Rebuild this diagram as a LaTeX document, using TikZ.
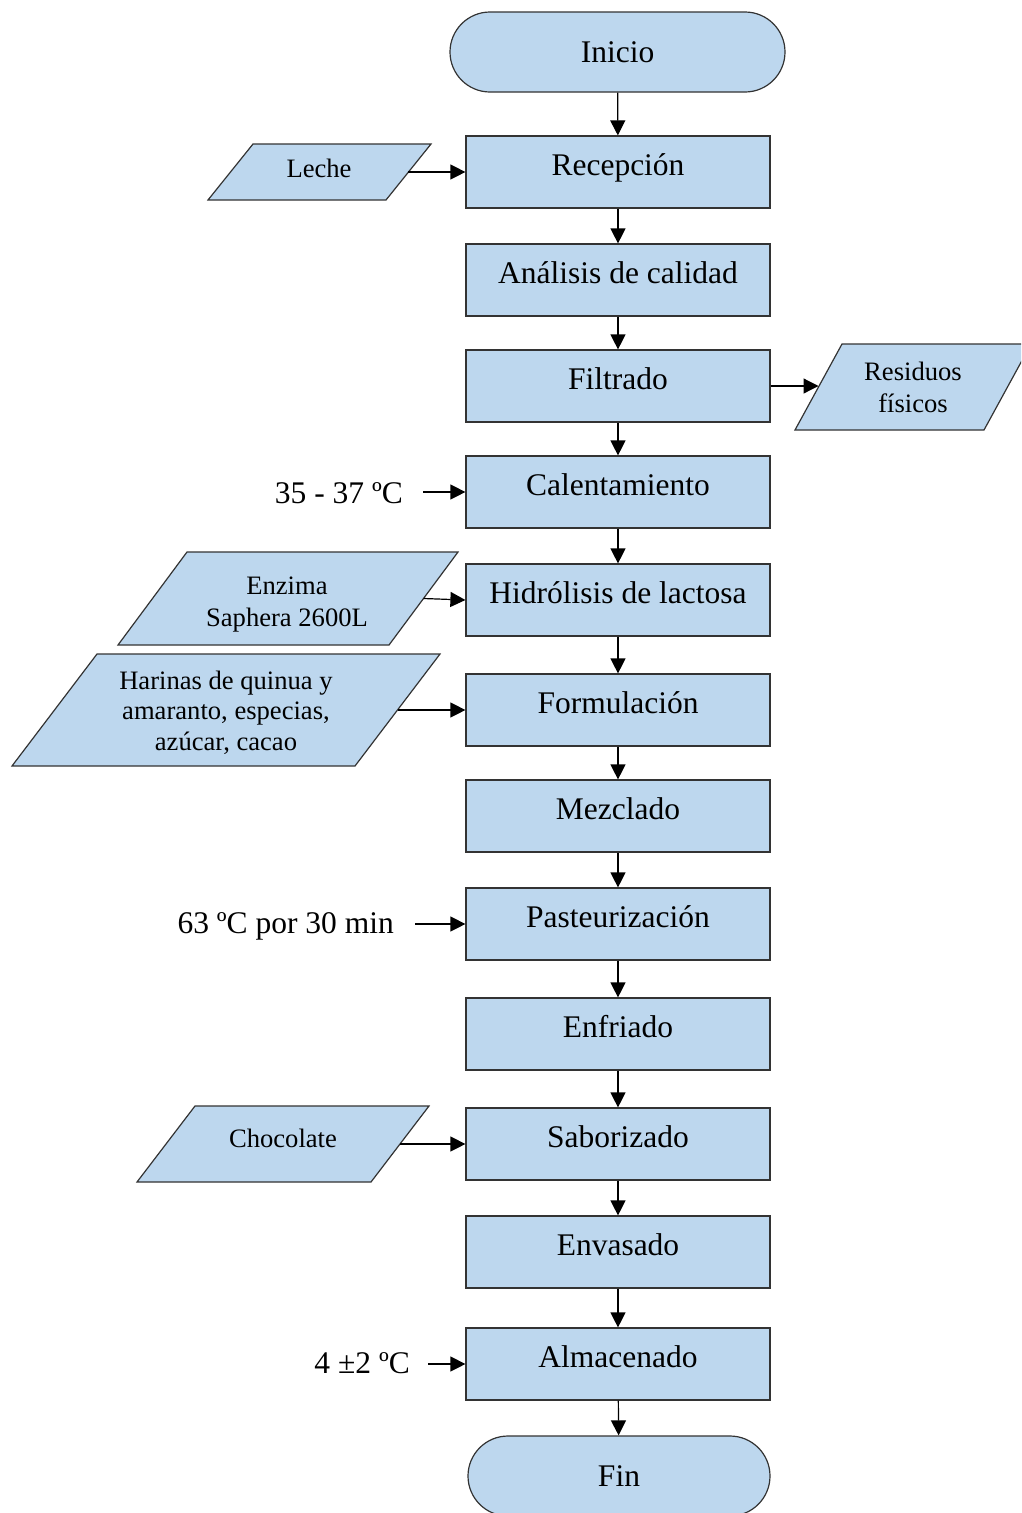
\documentclass[tikz,border=0pt]{standalone}
\usepackage{fontspec}
\setmainfont{Liberation Serif}
\usetikzlibrary{arrows.meta}
\definecolor{boxfill}{HTML}{BDD7EE}
\definecolor{boxline}{HTML}{333333}
\tikzset{
  proc/.style={draw=boxline, fill=boxfill, line width=1.2pt, minimum width=304pt, minimum height=72pt,
    inner sep=0pt, font=\fontsize{31.5}{36}\selectfont, text height=12pt, text depth=6pt},
  term/.style={draw=boxline, fill=boxfill, line width=1.2pt, minimum height=80pt, rounded corners=40pt,
    inner sep=0pt, font=\fontsize{31.5}{36}\selectfont, text height=21pt, text depth=0pt},
  para/.style={draw=boxline, fill=boxfill, line width=1.2pt},
  ptext/.style={align=center, font=\fontsize{26.6}{32}\selectfont, inner sep=0pt},
  free/.style={font=\fontsize{31.5}{36}\selectfont, inner sep=0pt},
  arr/.style={line width=1.2pt, -{Triangle[length=15pt,width=15pt]}}
}
\begin{document}
\begin{tikzpicture}[x=1pt,y=-1pt]
\useasboundingbox (0,0) rectangle (1021,1513);
\clip (0,0) rectangle (1021,1513);
% terminals
\node[term, minimum width=335pt] (inicio) at (617.5,52) {Inicio};
\node[term, minimum width=302pt] (fin) at (619,1476) {Fin};
% processes
\node[proc] (recep) at (618,172) {Recepción};
\node[proc] (anal) at (618,280) {Análisis de calidad};
\node[proc] (filt) at (618,386) {Filtrado};
\node[proc] (calen) at (618,492) {Calentamiento};
\node[proc] (hidro) at (618,600) {Hidrólisis de lactosa};
\node[proc] (formu) at (618,710) {Formulación};
\node[proc] (mezc) at (618,816) {Mezclado};
\node[proc] (paste) at (618,924) {Pasteurización};
\node[proc] (enfri) at (618,1034) {Enfriado};
\node[proc] (sabor) at (618,1144) {Saborizado};
\node[proc] (envas) at (618,1252) {Envasado};
\node[proc] (almac) at (618,1364) {Almacenado};
% main flow
\draw[arr] (inicio) -- (recep);
\draw[arr] (recep) -- (anal);
\draw[arr] (anal) -- (filt);
\draw[arr] (filt) -- (calen);
\draw[arr] (calen) -- (hidro);
\draw[arr] (hidro) -- (formu);
\draw[arr] (formu) -- (mezc);
\draw[arr] (mezc) -- (paste);
\draw[arr] (paste) -- (enfri);
\draw[arr] (enfri) -- (sabor);
\draw[arr] (sabor) -- (envas);
\draw[arr] (envas) -- (almac);
\draw[arr] (almac) -- (fin);
% parallelograms
\draw[para] (208,200) -- (253,144) -- (431,144) -- (386,200) -- cycle;
\node[ptext, anchor=base] (leche) at (319,177) {Leche};
\coordinate (lecheout) at (408,172);
\draw[arr] (lecheout) -- (recep.west);

\draw[para] (795,430) -- (842,344) -- (1031,344) -- (984,430) -- cycle;
\node[ptext, anchor=base] (resid) at (913,412) {Residuos\\físicos};
\coordinate (residin) at (818.5,386);
\draw[arr] (filt.east) -- (residin);

\draw[para] (118,645) -- (187,552) -- (458,552) -- (389,645) -- cycle;
\node[ptext, anchor=base] (enzima) at (287,626) {Enzima\\Saphera 2600L};
\coordinate (enzout) at (423.5,598.5);
\draw[arr] (enzout) -- (hidro.west);

\draw[para] (12,766) -- (97,654) -- (440,654) -- (355,766) -- cycle;
\node[ptext, anchor=base, font=\fontsize{26.6}{30.5}\selectfont] (harinas) at (226,750) {Harinas de quinua y\\amaranto, especias,\\azúcar, cacao};
\coordinate (harout) at (397.5,710);
\draw[arr] (harout) -- (formu.west);

\draw[para] (137,1182) -- (195,1106) -- (429,1106) -- (371,1182) -- cycle;
\node[ptext, anchor=base] (choco) at (283,1147) {Chocolate};
\coordinate (chocout) at (400,1144);
\draw[arr] (chocout) -- (sabor.west);

% free labels
\node[free, anchor=base east] (t1) at (403,503) {35 - 37 ºC};
\coordinate (t1out) at (423,492);
\draw[arr] (t1out) -- (calen.west);
\node[free, anchor=base east] (t2) at (394,933) {63 ºC por 30 min};
\coordinate (t2out) at (415,924);
\draw[arr] (t2out) -- (paste.west);
\node[free, anchor=base east] (t3) at (410,1373) {4 ±2 ºC};
\coordinate (t3out) at (428,1364);
\draw[arr] (t3out) -- (almac.west);
\end{tikzpicture}
\end{document}
